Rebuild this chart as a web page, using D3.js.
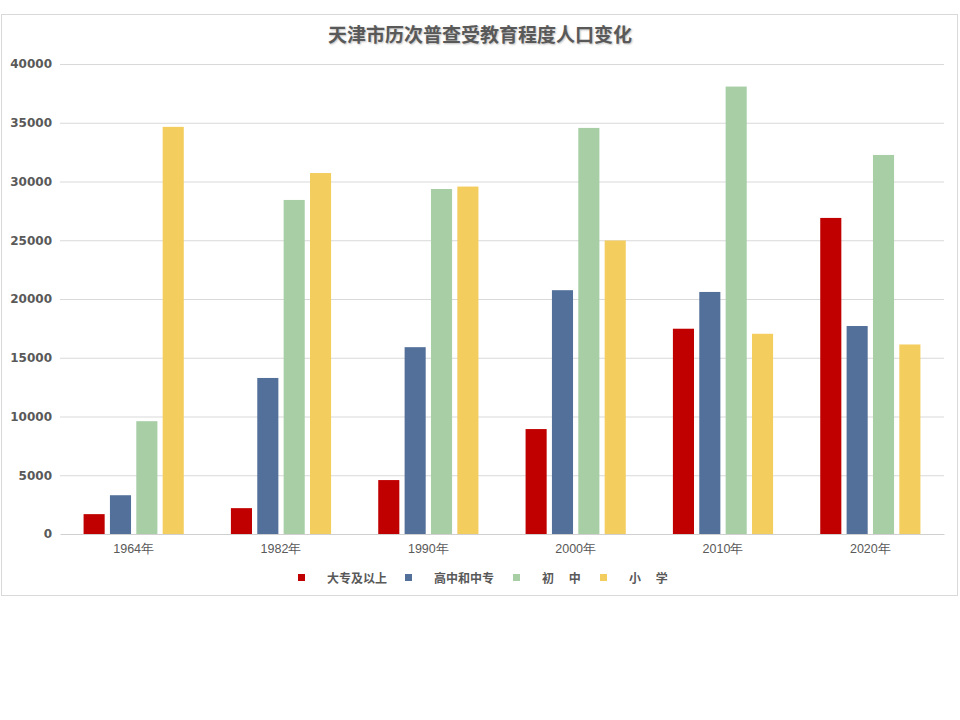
<!DOCTYPE html>
<html><head><meta charset="utf-8">
<script src="https://cdn.jsdelivr.net/npm/d3@7"></script>
<style>
body{margin:0;background:#fff;}
svg{display:block;font-family:"Noto Sans CJK SC","DejaVu Sans",sans-serif;}
</style></head>
<body><svg id="c" width="960" height="720"></svg>
<script>
const categories = ["1964年","1982年","1990年","2000年","2010年","2020年"];
const seriesNames = ["大专及以上","高中和中专","初　中","小　学"];
const legendLabels = ["大专及以上","高中和中专","初　 中","小　 学"];
const college = [1690, 2200, 4590, 8930, 17470, 26900];
const highSchool = [3300, 13280, 15900, 20750, 20600, 17700];
const juniorHigh = [9600, 28430, 29360, 34560, 38080, 32260];
const primary = [34650, 30720, 29570, 24980, 17040, 16130];
const yTicks = [0,5000,10000,15000,20000,25000,30000,35000,40000];
const colors = ["#C00000","#53709A","#A7CEA5","#F3CD5E"];

const series = [college, highSchool, juniorHigh, primary];
const svg = d3.select("#c");
const m = {l:60, r:944, t:64, b:534};

// outer border
svg.append("rect").attr("x",1.5).attr("y",14.5).attr("width",956).attr("height",581)
  .attr("fill","#fff").attr("stroke","#d9d9d9");

const y = d3.scaleLinear().domain([0,40000]).range([m.b, m.t]);
const x0 = d3.scaleBand().domain(categories).range([m.l, m.r]).paddingInner(0.32).paddingOuter(0.16);
const x1 = d3.scaleBand().domain(d3.range(4)).range([0, x0.bandwidth()]).paddingInner(0.2);

// gridlines
svg.append("g").selectAll("line").data(yTicks.filter(d=>d>0)).join("line")
  .attr("x1",m.l).attr("x2",m.r).attr("y1",d=>y(d)+0.5).attr("y2",d=>y(d)+0.5)
  .attr("stroke","#d9d9d9").attr("stroke-width",1);

// y axis labels
const yAxis = d3.axisLeft(y).tickValues(yTicks).tickFormat(d3.format("d")).tickSize(0).tickPadding(8);
const ya = svg.append("g").attr("transform",`translate(${m.l},0)`).call(yAxis);
ya.select(".domain").remove();
ya.selectAll("text").attr("font-size","12px").attr("font-weight","bold").attr("fill","#595959")
  .attr("font-family","'DejaVu Sans',sans-serif");

// bars
const groups = svg.append("g").selectAll("g").data(categories).join("g")
  .attr("transform",c=>`translate(${x0(c)},0)`);
groups.selectAll("rect").data((c,i)=>series.map((s,k)=>({k, v:s[i]}))).join("rect")
  .attr("x",d=>x1(d.k)).attr("width",x1.bandwidth())
  .attr("y",d=>y(d.v)).attr("height",d=>y(0)-y(d.v))
  .attr("fill",d=>colors[d.k]);

// x axis
const xAxis = d3.axisBottom(x0).tickSize(0).tickPadding(10);
const xa = svg.append("g").attr("transform",`translate(0,${m.b})`).call(xAxis);
xa.select(".domain").attr("stroke","#d0d0d0");
xa.selectAll("text").attr("font-size","12.5px").attr("fill","#595959");

// title
svg.append("text").attr("x",480).attr("y",42).attr("text-anchor","middle")
  .attr("font-size","19px").attr("font-weight","bold").attr("fill","#595959")
  .style("text-shadow","1px 1px 2px rgba(0,0,0,0.25)")
  .text("天津市历次普查受教育程度人口变化");

// legend
const legX = [301, 408, 516, 603];
const lg = svg.append("g").selectAll("g").data(seriesNames).join("g")
  .attr("transform",(d,i)=>`translate(${legX[i]},578)`);
lg.append("rect").attr("x",-3).attr("y",-4).attr("width",7).attr("height",7)
  .attr("fill",(d,i)=>colors[i]);
lg.append("text").attr("x",26).attr("y",4.5).attr("font-size","12px").attr("font-weight","bold")
  .attr("fill","#595959").attr("xml:space","preserve").text((d,i)=>legendLabels[i]);
</script></body></html>
